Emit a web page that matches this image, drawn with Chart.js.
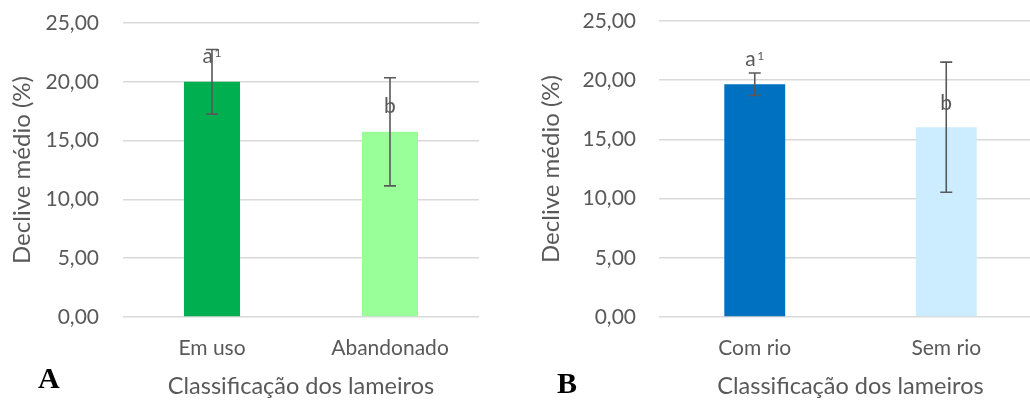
<!DOCTYPE html>
<html>
<head>
<meta charset="utf-8">
<script src="https://cdn.jsdelivr.net/npm/chart.js@4"></script>
<style>
  html, body { margin: 0; padding: 0; background: #fff; }
  #wrap { position: relative; width: 1030px; height: 400px; overflow: hidden; }
  canvas { position: absolute; top: 0; }
  .tag {
    position: absolute;
    font: bold 30px "Liberation Serif", "DejaVu Serif", serif;
    line-height: 30px;
    color: #000;
  }
</style>
</head>
<body>
<div id="wrap">
  <canvas id="chartA" width="500" height="400" style="left:0"></canvas>
  <canvas id="chartB" width="530" height="400" style="left:520px"></canvas>
  <div class="tag" style="left:38px;top:363px">A</div>
  <div class="tag" style="left:557px;top:368px">B</div>
</div>
<script>
const yTicks = [0, 5, 10, 15, 20, 25];

const useLabels = ["Em uso", "Abandonado"];
const useMeans = [20.0, 15.75];
const useErrors = [2.75, 4.6];
const useLetters = ["a", "b"];
const useSup = ["1", ""];
const useLetterPos = [21.6, 17.35];
const useColors = ["#00B050", "#99FF99"];

const riverLabels = ["Com rio", "Sem rio"];
const riverMeans = [19.66, 16.03];
const riverErrors = [0.95, 5.5];
const riverLetters = ["a", "b"];
const riverSup = ["1", ""];
const riverLetterPos = [21.2, 17.45];
const riverColors = ["#0070C0", "#CCECFF"];

const TEXT = "#595959";
const FONT = "Lato";

// error bars + significance letters, drawn through the chart's own scales
const extrasPlugin = {
  id: "extras",
  afterDatasetsDraw(chart, args, opts) {
    const { ctx, scales } = chart;
    const meta = chart.getDatasetMeta(0);
    const y = scales.y;
    ctx.save();
    meta.data.forEach((bar, i) => {
      const v = chart.data.datasets[0].data[i];
      const e = opts.errors[i];
      const top = y.getPixelForValue(v + e);
      const bot = y.getPixelForValue(v - e);
      ctx.strokeStyle = "#595959";
      ctx.lineWidth = 1.6;
      ctx.beginPath();
      ctx.moveTo(bar.x, top);
      ctx.lineTo(bar.x, bot);
      ctx.moveTo(bar.x - 6, top);
      ctx.lineTo(bar.x + 6, top);
      ctx.moveTo(bar.x - 6, bot);
      ctx.lineTo(bar.x + 6, bot);
      ctx.stroke();

      // letter with optional superscript, group centred on the bar
      const base = opts.letters[i];
      const sup = opts.sup[i];
      const ly = y.getPixelForValue(opts.letterPos[i]);
      ctx.fillStyle = TEXT;
      ctx.textBaseline = "alphabetic";
      ctx.textAlign = "left";
      ctx.font = "21px " + FONT;
      const wb = ctx.measureText(base).width;
      ctx.font = "12px " + FONT;
      const ws = sup ? ctx.measureText(sup).width + 1.5 : 0;
      const x0 = bar.x - (wb + ws) / 2;
      ctx.font = "21px " + FONT;
      ctx.fillText(base, x0, ly);
      if (sup) {
        ctx.font = "12px " + FONT;
        ctx.fillText(sup, x0 + wb + 1.5, ly - 6);
      }
    });
    ctx.restore();
  },
};

function makeChart(id, labels, means, colors, errors, letters, sup, letterPos, cfg) {
  return new Chart(document.getElementById(id).getContext("2d"), {
    type: "bar",
    data: {
      labels,
      datasets: [
        {
          data: means,
          backgroundColor: colors,
          categoryPercentage: 1,
          barPercentage: cfg.barPct,
        },
      ],
    },
    plugins: [extrasPlugin],
    options: {
      responsive: false,
      animation: false,
      layout: { padding: { top: cfg.top, right: cfg.right, bottom: 0, left: 0 } },
      plugins: {
        legend: { display: false },
        tooltip: { enabled: false },
        extras: { errors, letters, sup, letterPos },
      },
      scales: {
        x: {
          grid: { display: false, drawTicks: false },
          border: { display: false },
          ticks: { color: TEXT, font: { family: FONT, size: 21 }, padding: 19 },
          title: {
            display: true,
            text: "Classificação dos lameiros",
            color: TEXT,
            font: { family: FONT, size: 23.5 },
            padding: { top: 0, bottom: -1 },
          },
          afterFit: (s) => { s.height = 83; },
        },
        y: {
          min: 0,
          max: 25,
          afterBuildTicks: (s) => { s.ticks = yTicks.map((v) => ({ value: v })); },
          grid: { color: "#D9D9D9", lineWidth: 1.5, drawTicks: false },
          border: { display: false },
          ticks: {
            color: TEXT,
            font: { family: FONT, size: 21 },
            padding: cfg.tickPad,
            callback: (v) => v.toFixed(2).replace(".", ","),
          },
          title: {
            display: true,
            text: "Declive médio (%)",
            color: TEXT,
            font: { family: FONT, size: 24 },
            padding: { top: cfg.titlePad, bottom: 0 },
          },
          afterFit: (s) => {
            s.width = cfg.yWidth;
            // let layout.padding alone decide the plot top
            s.paddingTop = 0;
            s.paddingBottom = 0;
          },
        },
      },
    },
  });
}

makeChart("chartA", useLabels, useMeans, useColors, useErrors, useLetters, useSup, useLetterPos,
  { barPct: 0.315, top: 23, right: 21, tickPad: 24, titlePad: 8, yWidth: 123 });
makeChart("chartB", riverLabels, riverMeans, riverColors, riverErrors, riverLetters, riverSup, riverLetterPos,
  { barPct: 0.318, top: 21, right: 8, tickPad: 23, titlePad: 17, yWidth: 139 });
</script>
</body>
</html>
